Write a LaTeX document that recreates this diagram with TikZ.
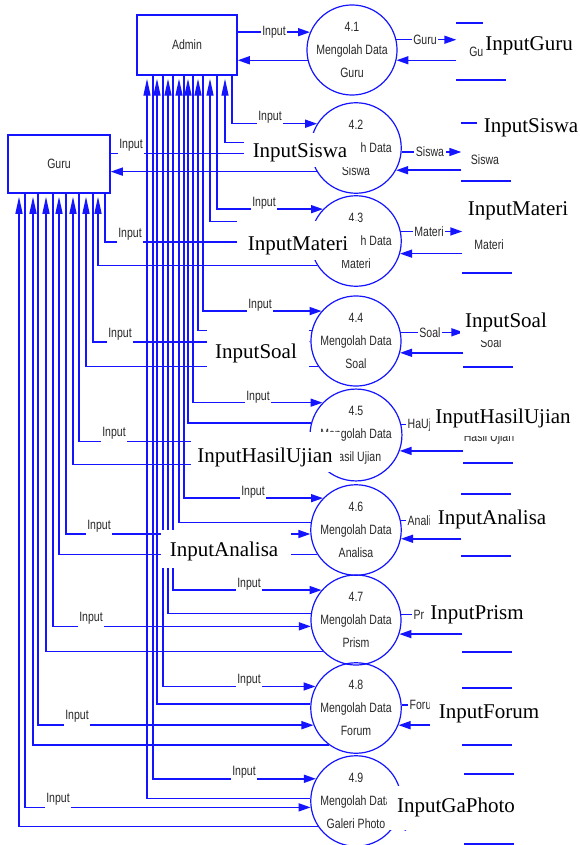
\documentclass[tikz,border=0pt]{standalone}
\usepackage{fontspec}
\newfontfamily\dfdfont[FakeStretch=0.78]{Liberation Sans}
\newfontfamily\ovlfont{Liberation Serif}
\usetikzlibrary{arrows.meta}
\definecolor{dfdblue}{RGB}{20,20,255}
\definecolor{dfdtext}{RGB}{40,40,40}
\begin{document}
\begin{tikzpicture}[x=1pt,y=-1pt,
  ent/.style={draw=dfdblue,line width=1.5pt,fill=white,inner sep=0pt,
    font=\dfdfont\fontsize{13.5}{15}\selectfont,text=dfdtext},
  proc/.style={circle,draw=dfdblue,line width=1.2pt,minimum size=86pt,inner sep=0pt,
    align=center,font=\dfdfont\fontsize{13.5}{23}\selectfont,text=dfdtext},
  dstore/.style={inner sep=0pt,minimum width=49pt},
  stline/.style={draw=dfdblue,line width=1.5pt},
  stxt/.style={inner sep=0pt,font=\dfdfont\fontsize{13.5}{15}\selectfont,text=dfdtext},
  flow/.style={draw=dfdblue,line width=1.5pt,-{Triangle[length=12pt,width=8pt]}},
  upflow/.style={draw=dfdblue,line width=1.3pt,-{Triangle[length=17pt,width=7pt]},shorten >=3pt},
  lbl/.style={fill=white,inner xsep=1.5pt,inner ysep=4pt,
    font=\dfdfont\fontsize{13.5}{15}\selectfont,text=dfdtext},
  ovbox/.style={fill=white,inner sep=0pt},
  ovtxt/.style={inner sep=0pt,font=\ovlfont\fontsize{21}{24}\selectfont,text=black}]
\useasboundingbox (0,0) rectangle (580,845);
\fill[white] (0,0) rectangle (580,845);

% external entities
\node[ent,minimum width=100pt,minimum height=60pt] (admin) at (187,45) {Admin};
\node[ent,minimum width=102pt,minimum height=58pt] (guru) at (59,164) {Guru};

% processes
\node[proc,minimum size=88pt] (c1) at (352,50) {4.1\\Mengolah Data\\Guru};
\node[proc] (c2) at (356,148) {4.2\\\phantom{Mengola}h Data\\Siswa};
\node[proc] (c3) at (356,241) {4.3\\\phantom{Mengola}h Data\\Materi};
\foreach \k/\cy/\nm in {4/341/Soal,5/435/Hasil Ujian,
  6/530/Analisa,7/620/Prism,8/708/Forum,9/801/Galeri Photo}
  \node[proc] (c\k) at (356,\cy) {4.\k\\Mengolah Data\\\nm};

% data stores
\foreach \k/\sx/\yt/\yb in {1/481/23/80,2/486/123/181,3/487/215/273,4/488/312/367,
  5/488/407/463,6/486/494/556,7/487/595/652,8/487/688/745,9/489/774/844}{
  \node[dstore,minimum height={\yb-\yt}] (s\k) at (\sx,{(\yt+\yb)/2}) {};
  \draw[stline] (s\k.north west) -- (s\k.north east) (s\k.south west) -- (s\k.south east);
}
\node[stxt] (st1) at (481,52) {Gu\phantom{ru}};
\node[stxt] (st2) at (485,160) {Siswa};
\node[stxt] (st3) at (489,245) {Materi};
\node[stxt] (st4) at (491,343) {Soal};
\node[stxt] (st5) at (489,438) {Hasil Ujian};

% 4.1 with Admin
\draw[flow] (admin.east |- c1.157) -- (c1.157);
\draw[flow] (c1.193) -- (admin.east |- c1.193);
\node[lbl,yshift=1pt] (ail1) at (274,33) {Input};

% Admin bundle
\foreach \k/\cy/\ain/\aret/\axi/\axr/\alx in {2/148/125/143/232/225/270,
  3/241/211/223/217/210/264,4/341/313/331/203/198/260,5/435/405/424/193/188/258,
  6/530/500/523/184/179/253,7/620/592/614/173/168/249,8/708/688/704/163/157/249,
  9/801/780/799/153/147/244}{
  \pgfmathtruncatemacro\angA{round(180+asin((\ain-\cy)/43))}
  \pgfmathtruncatemacro\angB{round(180+asin((\aret-\cy)/43))}
  \coordinate (axi\k) at (\axi,0);
  \coordinate (axr\k) at (\axr,0);
  \draw[flow] (admin.south -| axi\k) |- (c\k.\angA);
  \draw[upflow] (c\k.\angB) -| (admin.south -| axr\k);
  \node[lbl,yshift=8pt] (ail\k) at (\alx,\ain) {Input};
}

% 4.2 with Guru (right side of Guru)
\draw[flow] (guru.east |- c2.187) -- (c2.187);
\draw[flow] (c2.211) -- (guru.east |- c2.211);
\node[lbl,yshift=8pt] (gil2) at (131,153) {Input};

% Guru bundle
\foreach \k/\cy/\gin/\gret/\gxi/\gxr/\glx in {3/241/242/264/105/98/130,
  4/341/342/365/93/86/120,5/435/441/462/79/73/114,6/530/534/553/66/59/99,
  7/620/626/650/53/46/91,8/708/724/743/38/33/77,9/801/807/825/25/19/58}{
  \pgfmathtruncatemacro\angA{round(180+asin((\gin-\cy)/43))}
  \pgfmathtruncatemacro\angB{round(180+asin((\gret-\cy)/43))}
  \coordinate (gxi\k) at (\gxi,0);
  \coordinate (gxr\k) at (\gxr,0);
  \draw[flow] (guru.south -| gxi\k) |- (c\k.\angA);
  \draw[upflow] (c\k.\angB) -| (guru.south -| gxr\k);
  \node[lbl,yshift=8pt] (gil\k) at (\glx,\gin) {Input};
}

% flows to and from data stores
\foreach \k/\cy/\rad/\fo/\sr in {1/50/44/40/60,2/148/43/152/169,3/241/43/232/253,
  4/341/43/333/352,5/435/43/425/450,6/530/43/521/538,7/620/43/615/633,
  8/708/43/705/724,9/801/43/806/825}{
  \pgfmathtruncatemacro\angC{mod(round(360-asin((\fo-\cy)/\rad)),360)}
  \pgfmathtruncatemacro\angD{mod(round(360-asin((\sr-\cy)/\rad)),360)}
  \draw[flow] (c\k.\angC) -- (s\k.west |- c\k.\angC);
  \draw[flow] (s\k.west |- c\k.\angD) -- (c\k.\angD);
}
\node[lbl,inner ysep=1pt] (fl1) at (425,40) {Guru};
\node[lbl,inner ysep=1pt] (fl2) at (430,152) {Siswa};
\node[lbl,inner ysep=1pt] (fl3) at (429,232) {Materi};
\node[lbl,inner ysep=1pt] (fl4) at (430,333) {Soal};
\node[lbl,inner ysep=1pt,anchor=west] (fl5) at (406,425) {HaUj};
\node[lbl,inner ysep=1pt,anchor=west] (fl6) at (406,521) {Anali};
\node[lbl,inner ysep=1pt,anchor=west] (fl7) at (412,615) {Pr};
\node[lbl,inner ysep=1pt,anchor=west] (fl8) at (408,705) {Foru};

% overlaid serif labels on white
\foreach \n/\xa/\xb/\ya/\yb/\tx/\ty/\txt in {
  1/483/580/22/55/529/46/InputGuru,
  2/477/580/110/145/531/128/InputSiswa,
  3/244/358/133/167/300/153/InputSiswa,
  4/462/575/195/228/518/211/InputMateri,
  5/237/359/221/260/298/246/InputMateri,
  6/460/555/305/340/506/322/InputSoal,
  7/207/309/329/370/256/353/InputSoal,
  8/430/580/400/436/503/418/InputHasilUjian,
  9/191/340/432/472/265/457/InputHasilUjian,
  10/430/555/500/535/492/519/InputAnalisa,
  11/161/291/530/568/224/551/InputAnalisa,
  12/424/530/590/632/477/615/InputPrism,
  13/430/550/695/732/489/714/InputForum,
  14/387/525/786/830/456/807/InputGaPhoto}{
  \node[ovbox,minimum width={\xb-\xa},minimum height={\yb-\ya}] (ob\n) at ({(\xa+\xb)/2},{(\ya+\yb)/2}) {};
  \node[ovtxt] (ot\n) at (\tx,\ty) {\txt};
}
\end{tikzpicture}
\end{document}
